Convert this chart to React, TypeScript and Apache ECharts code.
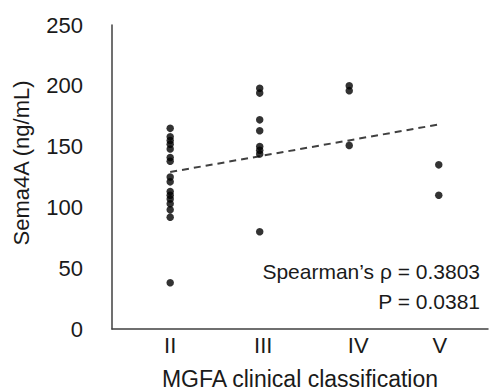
import React, { useEffect, useRef } from "react";
import * as echarts from "echarts";

const categoryLabels = ["II", "III", "IV", "V"];
const categoryX = [2, 3, 4, 5];
const groupII = [165, 158, 155, 152, 148, 141, 138, 125, 121, 113, 110, 107, 103, 98, 92, 38];
const groupIII = [198, 194, 172, 163, 150, 147, 144, 80];
const groupIV = [200, 196, 151];
const groupV = [135, 110];
const yTicks = [0, 50, 100, 150, 200, 250];
const statLines = ["Spearman\u2019s \u03c1 = 0.3803", "P = 0.0381"];

const FONT = "'Liberation Sans', Arial, sans-serif";
const TEXT = "#1a1a1a";
const AXIS = "#404040";

export default function App() {
  const ref = useRef<HTMLDivElement>(null);
  useEffect(() => {
    if (!ref.current) return;
    const chart = echarts.init(ref.current, undefined, { renderer: "svg" });
    const groups = [groupII, groupIII, groupIV, groupV];
    const points: number[][] = [];
    groups.forEach((g, i) => g.forEach((v) => points.push([categoryX[i], v])));
    // linear least-squares trendline derived from the data
    const n = points.length;
    const mx = points.reduce((s, p) => s + p[0], 0) / n;
    const my = points.reduce((s, p) => s + p[1], 0) / n;
    let sxy = 0, sxx = 0;
    points.forEach((p) => { sxy += (p[0] - mx) * (p[1] - my); sxx += (p[0] - mx) ** 2; });
    const slope = sxy / sxx;
    const icpt = my - slope * mx;
    const x0 = categoryX[0], x1 = categoryX[categoryX.length - 1];
    const trend = [[x0, icpt + slope * x0], [x1, icpt + slope * x1]];

    const labelShift: Record<string, number> = { II: 0, III: 7, IV: 18, V: 2 };
    const rich: Record<string, any> = {};
    categoryLabels.forEach((c, i) => {
      rich["c" + i] = { fontSize: 22, fontFamily: FONT, color: TEXT, padding: [0, 0, 0, labelShift[c]] };
    });

    chart.setOption({
      animation: false,
      backgroundColor: "#fff",
      textStyle: { fontFamily: FONT },
      grid: { left: 112, top: 25, width: 376, height: 304, containLabel: false, outerBoundsMode: "none" },
      xAxis: {
        type: "value",
        min: 1.35,
        max: 5.55,
        name: "MGFA clinical classification",
        nameLocation: "middle",
        nameGap: 38,
        nameTextStyle: { fontSize: 23, fontFamily: FONT, color: TEXT },
        splitLine: { show: false },
        axisTick: { show: false },
        axisLine: { show: true, lineStyle: { color: AXIS, width: 1.5 } },
        axisLabel: {
          customValues: categoryX,
          margin: 5,
          formatter: (v: number) => {
            const i = categoryX.indexOf(Math.round(v));
            return i >= 0 ? `{c${i}|${categoryLabels[i]}}` : "";
          },
          rich,
        },
      },
      yAxis: {
        type: "value",
        min: yTicks[0],
        max: yTicks[yTicks.length - 1],
        interval: 50,
        name: "Sema4A (ng/mL)",
        nameLocation: "middle",
        nameGap: 80,
        nameRotate: 90,
        nameTextStyle: { fontSize: 22, fontFamily: FONT, color: TEXT, padding: [0, 0, 0, 28] },
        splitLine: { show: false },
        axisTick: { show: false },
        axisLine: { show: true, lineStyle: { color: AXIS, width: 1.5 } },
        axisLabel: { fontSize: 22, fontFamily: FONT, color: TEXT, margin: 29 },
      },
      series: [
        {
          type: "scatter",
          data: points,
          symbol: "circle",
          symbolSize: 7.5,
          itemStyle: { color: "#000" },
          z: 3,
        },
        {
          type: "line",
          data: trend,
          symbol: "none",
          lineStyle: { color: AXIS, width: 2, type: [7, 5] },
          z: 2,
        },
      ],
      graphic: [
        {
          type: "text",
          right: 10,
          top: 261,
          style: { text: statLines[0], fontSize: 21, fontFamily: FONT, fill: TEXT, textAlign: "right" },
        },
        {
          type: "text",
          right: 10,
          top: 291,
          style: { text: statLines[1], fontSize: 21, fontFamily: FONT, fill: TEXT, textAlign: "right" },
        },
      ],
    });
    return () => chart.dispose();
  }, []);
  return (
    <div
      ref={ref}
      style={{ position: "fixed", left: 0, top: 0, width: 490, height: 391, background: "#fff" }}
    />
  );
}
